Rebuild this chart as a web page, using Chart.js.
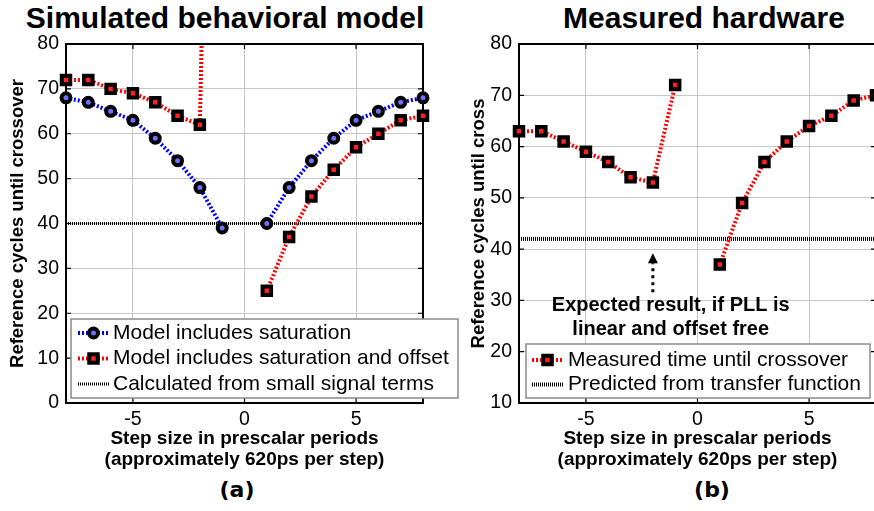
<!DOCTYPE html>
<html lang="en">
<head>
<meta charset="UTF-8">
<title>Crossover time vs. step size</title>
<script src="https://cdn.jsdelivr.net/npm/chart.js@4.4.0/dist/chart.umd.min.js"></script>
<style>
    * { margin: 0; padding: 0; box-sizing: border-box; }
    body {
        width: 874px;
        height: 511px;
        overflow: hidden;
        position: relative;
        background: #fff;
        font-family: 'Liberation Sans', Arial, sans-serif;
        color: #000;
    }
    .title {
        position: absolute;
        top: 1px;
        font-size: 30px;
        font-weight: bold;
        white-space: nowrap;
        transform: translateX(-50%);
    }
    .caption {
        position: absolute;
        top: 477px;
        font-family: 'DejaVu Sans', sans-serif;
        font-size: 22px;
        font-weight: bold;
        transform: translateX(-50%);
    }
    canvas { position: absolute; top: 0; }
</style>
</head>
<body>
<div class="title" style="left:225px">Simulated behavioral model</div>
<div class="title" style="left:704px">Measured hardware</div>
<canvas id="simChart" width="460" height="475" style="left:0"></canvas>
<canvas id="hwChart" width="450" height="475" style="left:440px"></canvas>
<div class="caption" style="left:237px">(a)</div>
<div class="caption" style="left:712px">(b)</div>

<script>
// step sizes (prescalar periods); 0 is not a valid step, left as a gap
const steps = [-8, -7, -6, -5, -4, -3, -2, -1, 0, 1, 2, 3, 4, 5, 6, 7, 8];

// (a) simulated behavioral model
const simSaturation = [68, 67, 65, 63, 59, 54, 48, 39, null, 40, 48, 54, 59, 63, 65, 67, 68];
const simSatOffset  = [72, 72, 70, 69, 67, 64, 62, 300, null, 25, 37, 46, 52, 57, 60, 63, 64];
const simSmallSignal = 40;

// (b) measured hardware
const hwMeasured = [63, 63, 61, 59, 57, 54, 53, 72, null, 37, 49, 57, 61, 64, 66, 69, 70];
const hwPredicted = 42;

const xRange = [-8, 8];
const xTicks = [-5, 0, 5];
const simYTicks = [0, 10, 20, 30, 40, 50, 60, 70, 80];
const hwYTicks = [10, 20, 30, 40, 50, 60, 70, 80];

// arrow + note on the hardware plot
const noteArrow = { x: -2, from: 31.6, to: 39.2 };
const noteText = { x: -1.2, y: [29.1, 24.4], lines: ['Expected result, if PLL is', 'linear and offset free'] };

const FONT = "'Liberation Sans', Arial, sans-serif";
Chart.defaults.font.family = FONT;
Chart.defaults.color = '#000';

const toPoints = ys => steps.map((x, i) => ({ x: x, y: ys[i] }));
const flat = v => xRange.map(x => ({ x: x, y: v }));

function seriesStyle(color, marker) {
    return {
        borderColor: color,
        borderWidth: 4,
        borderDash: [2, 2],
        pointStyle: marker,
        pointRadius: marker === 'rect' ? 6 : 4.5,
        pointBorderWidth: 4,
        pointBorderColor: '#000',
        pointBackgroundColor: marker === 'rect' ? '#ff2020' : '#7070ff',
        tension: 0,
        spanGaps: false,
        clip: { left: 12, right: 12, top: 0, bottom: 12 }
    };
}

function refLine(width) {
    return {
        borderColor: '#000',
        borderWidth: width,
        borderDash: [1, 1],
        pointRadius: 0,
        tension: 0
    };
}

function drawMarker(ctx, style, x, y, r, bw, fill) {
    ctx.save();
    ctx.beginPath();
    if (style === 'rect') {
        const s = r * Math.SQRT1_2;
        ctx.rect(x - s, y - s, 2 * s, 2 * s);
    } else {
        ctx.arc(x, y, r, 0, Math.PI * 2);
    }
    ctx.fillStyle = fill;
    ctx.fill();
    ctx.lineWidth = bw;
    ctx.strokeStyle = '#000';
    ctx.stroke();
    ctx.restore();
}

// closed axes box with inward tick marks
const axesBox = {
    id: 'axesBox',
    beforeDatasetsDraw(chart) {
        const { ctx, chartArea: a, scales } = chart;
        ctx.save();
        ctx.strokeStyle = '#000';
        ctx.lineWidth = 2;
        ctx.strokeRect(a.left, a.top, a.right - a.left, a.bottom - a.top);
        ctx.lineWidth = 1.2;
        ctx.beginPath();
        scales.x.ticks.forEach(t => {
            const px = scales.x.getPixelForValue(t.value);
            ctx.moveTo(px, a.bottom); ctx.lineTo(px, a.bottom - 5);
            ctx.moveTo(px, a.top); ctx.lineTo(px, a.top + 5);
        });
        scales.y.ticks.forEach(t => {
            const py = scales.y.getPixelForValue(t.value);
            ctx.moveTo(a.left, py); ctx.lineTo(a.left + 5, py);
            ctx.moveTo(a.right, py); ctx.lineTo(a.right - 5, py);
        });
        ctx.stroke();
        ctx.restore();
    }
};

// boxed legend laid over the lower part of the plot
const boxLegend = {
    id: 'boxLegend',
    afterDraw(chart, args, o) {
        const { ctx } = chart;
        const [x0, y0, x1, y1] = o.box;
        ctx.save();
        ctx.fillStyle = '#fff';
        ctx.fillRect(x0, y0, x1 - x0, y1 - y0);
        ctx.strokeStyle = '#8a8a8a';
        ctx.lineWidth = 1.5;
        ctx.strokeRect(x0, y0, x1 - x0, y1 - y0);
        ctx.font = o.fontSize + 'px ' + FONT;
        ctx.textBaseline = 'middle';
        chart.data.datasets.forEach((ds, i) => {
            const y = o.firstRow + i * o.rowStep;
            ctx.save();
            ctx.strokeStyle = ds.borderColor;
            ctx.lineWidth = ds.borderWidth;
            ctx.setLineDash(ds.borderDash || []);
            ctx.beginPath();
            ctx.moveTo(o.sampleX, y);
            ctx.lineTo(o.sampleX + o.sampleLen, y);
            ctx.stroke();
            ctx.restore();
            if (ds.pointRadius > 0) {
                drawMarker(ctx, ds.pointStyle, o.sampleX + o.sampleLen / 2, y,
                    ds.pointRadius, ds.pointBorderWidth, ds.pointBackgroundColor);
            }
            ctx.fillStyle = '#000';
            ctx.fillText(ds.label, o.textX, y);
        });
        ctx.restore();
    }
};

// dotted arrow with a two-line note
const arrowNote = {
    id: 'arrowNote',
    afterDatasetsDraw(chart, args, o) {
        if (!o.arrow) return;
        const { ctx, scales: { x, y } } = chart;
        const ax = x.getPixelForValue(o.arrow.x);
        const tip = y.getPixelForValue(o.arrow.to);
        const tail = y.getPixelForValue(o.arrow.from);
        ctx.save();
        ctx.strokeStyle = '#000';
        ctx.lineWidth = 3;
        ctx.setLineDash([3, 4]);
        ctx.beginPath();
        ctx.moveTo(ax, tail);
        ctx.lineTo(ax, tip + 10);
        ctx.stroke();
        ctx.setLineDash([]);
        ctx.fillStyle = '#000';
        ctx.beginPath();
        ctx.moveTo(ax, tip);
        ctx.lineTo(ax - 5, tip + 10);
        ctx.lineTo(ax + 5, tip + 10);
        ctx.closePath();
        ctx.fill();
        ctx.font = 'bold 20px ' + FONT;
        ctx.textAlign = 'center';
        ctx.textBaseline = 'middle';
        const tx = x.getPixelForValue(o.text.x);
        o.text.lines.forEach((line, i) => {
            ctx.fillText(line, tx, y.getPixelForValue(o.text.y[i]));
        });
        ctx.restore();
    }
};

function axes(yTicks, yMin, yTitle, yWidth, yTitlePad) {
    return {
        x: {
            type: 'linear',
            min: xRange[0],
            max: xRange[1],
            afterBuildTicks: s => { s.ticks = xTicks.map(v => ({ value: v })); },
            afterFit: s => { s.height = 72; },
            grid: { color: '#c6c6c6', lineWidth: 1, drawTicks: false },
            border: { display: false },
            ticks: { font: { size: 19.5 }, padding: 5, maxRotation: 0 },
            title: {
                display: true,
                text: ['Step size in prescalar periods', '(approximately 620ps per step)'],
                font: { size: 19, weight: 'bold', lineHeight: 1.1 },
                padding: { top: 0, bottom: 5 }
            }
        },
        y: {
            type: 'linear',
            min: yMin,
            max: 80,
            afterBuildTicks: s => { s.ticks = yTicks.map(v => ({ value: v })); },
            afterFit: s => { s.width = yWidth; },
            grid: { color: '#c6c6c6', lineWidth: 1, drawTicks: false },
            border: { display: false },
            ticks: { font: { size: 19.5 }, padding: 7 },
            title: {
                display: true,
                text: yTitle,
                font: { size: 18.5, weight: 'bold', lineHeight: 1.1 },
                padding: { top: yTitlePad, bottom: 0 }
            }
        }
    };
}

new Chart(document.getElementById('simChart'), {
    type: 'line',
    data: {
        datasets: [
            Object.assign({ label: 'Model includes saturation', data: toPoints(simSaturation) },
                seriesStyle('#0000ff', 'circle')),
            Object.assign({ label: 'Model includes saturation and offset', data: toPoints(simSatOffset) },
                seriesStyle('#ff0000', 'rect')),
            Object.assign({ label: 'Calculated from small signal terms', data: flat(simSmallSignal) },
                refLine(3))
        ]
    },
    options: {
        responsive: false,
        animation: false,
        layout: { padding: { top: 44, right: 37, left: 0, bottom: 0 } },
        scales: axes(simYTicks, 0, 'Reference cycles until crossover', 66, 8),
        plugins: {
            legend: { display: false },
            tooltip: { enabled: false },
            boxLegend: {
                box: [71, 319, 458, 398],
                firstRow: 333, rowStep: 25.5,
                sampleX: 78, sampleLen: 31, textX: 113, fontSize: 21
            },
            arrowNote: {}
        }
    },
    plugins: [axesBox, arrowNote, boxLegend]
});

new Chart(document.getElementById('hwChart'), {
    type: 'line',
    data: {
        datasets: [
            Object.assign({ label: 'Measured time until crossover', data: toPoints(hwMeasured) },
                seriesStyle('#ff0000', 'rect')),
            Object.assign({ label: 'Predicted from transfer function', data: flat(hwPredicted) },
                refLine(4))
        ]
    },
    options: {
        responsive: false,
        animation: false,
        layout: { padding: { top: 44, right: 14, left: 0, bottom: 0 } },
        scales: axes(hwYTicks, 10, 'Reference cycles until cross', 79, 29),
        plugins: {
            legend: { display: false },
            tooltip: { enabled: false },
            boxLegend: {
                box: [86, 344, 430, 398],
                firstRow: 360, rowStep: 24.5,
                sampleX: 92, sampleLen: 31, textX: 128, fontSize: 21
            },
            arrowNote: { arrow: noteArrow, text: noteText }
        }
    },
    plugins: [axesBox, arrowNote, boxLegend]
});
</script>
</body>
</html>
